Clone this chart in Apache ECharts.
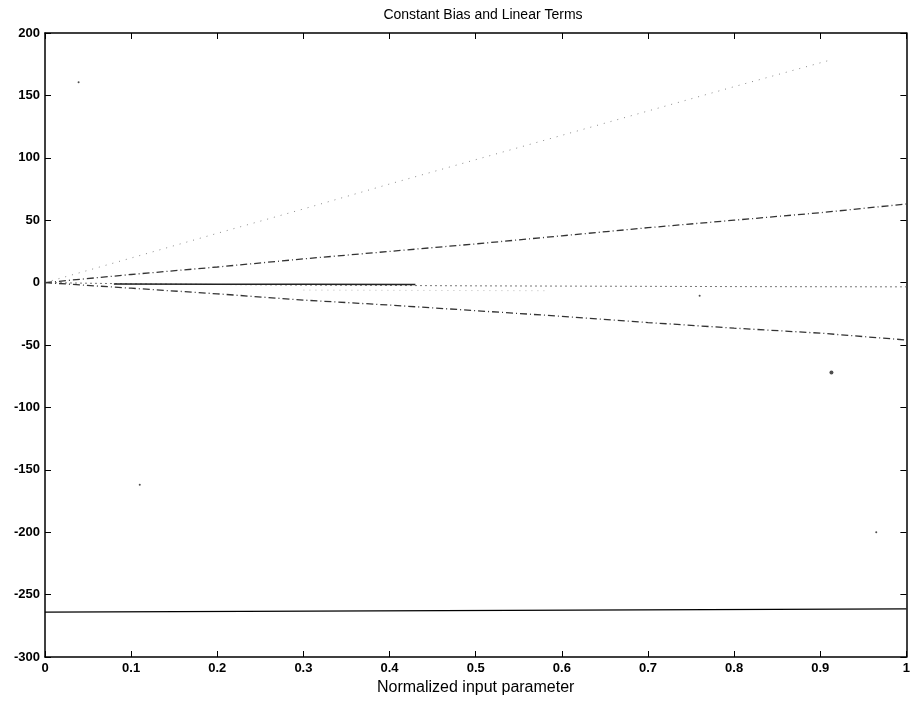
<!DOCTYPE html>
<html>
<head>
<meta charset="utf-8">
<script src="https://cdn.jsdelivr.net/npm/echarts@6/dist/echarts.min.js"></script>
<style>html,body{margin:0;padding:0;background:#fff}#c{width:913px;height:704px}</style>
</head>
<body>
<div id="c"></div>
<script>
var title = 'Constant Bias and Linear Terms';
var xName = 'Normalized input parameter';
var xTicks = [0, 0.1, 0.2, 0.3, 0.4, 0.5, 0.6, 0.7, 0.8, 0.9, 1];
var yTicks = [-300, -250, -200, -150, -100, -50, 0, 50, 100, 150, 200];

var xSteep = [0, 0.1, 0.2, 0.3, 0.4, 0.5, 0.6, 0.7, 0.8, 0.91];
var ySteep = [0, 19.7, 39.5, 59, 79, 98.5, 118, 137.5, 157, 178];

var xUpper = [0, 0.1, 0.2, 0.3, 0.4, 0.5, 0.6, 0.7, 0.8, 0.9, 1];
var yUpper = [0, 6.5, 12.5, 19, 25, 31, 37.5, 44, 50, 56, 63];

var xNear = [0, 0.1, 0.2, 0.3, 0.4, 0.5, 0.6, 0.7, 0.8, 0.9, 1];
var yNear = [0, -1, -1.5, -2, -2.3, -2.6, -2.8, -3, -3.2, -3.3, -3.4];

var xSolidNear = [0.08, 0.2, 0.3, 0.43];
var ySolidNear = [-1.2, -1.3, -1.4, -1.5];

var xFaint = [0.3, 0.45, 0.58];
var yFaint = [-6, -6.3, -6.5];

var xLower = [0, 0.1, 0.2, 0.3, 0.4, 0.5, 0.6, 0.7, 0.8, 0.9, 1];
var yLower = [0, -4.5, -9, -14, -18, -22.5, -27, -32, -36.5, -40.5, -46];

var xFlat = [0, 1];
var yFlat = [-264, -261.5];

var xDots = [0.039, 0.11, 0.913, 0.76, 0.965];
var yDots = [160.5, -162, -72, -10.5, -200];
var dotSizes = [2, 2, 4, 2, 2];

function pairs(xs, ys) { return xs.map(function (x, i) { return [x, ys[i]]; }); }

var chart = echarts.init(document.getElementById('c'), null, {renderer: 'canvas'});
var axisFont = {fontFamily: 'Liberation Sans', fontSize: 13, fontWeight: 'bold', color: '#000'};
var lineBase = {type: 'line', showSymbol: false, symbol: 'none', animation: false, silent: true};

chart.setOption({
  animation: false,
  backgroundColor: '#fff',
  title: {
    text: title, left: 478, top: 3, textAlign: 'center',
    textStyle: {fontFamily: 'Liberation Sans', fontSize: 14, fontWeight: 'normal', color: '#000'}
  },
  grid: {left: 45, right: 5, top: 33, bottom: 47, containLabel: false},
  xAxis: [{
    type: 'value', min: 0, max: 1, interval: 0.1, position: 'bottom',
    name: xName, nameLocation: 'middle', nameGap: 22,
    nameTextStyle: {fontFamily: 'Liberation Sans', fontSize: 16, color: '#000'},
    axisLine: {show: true, onZero: false, lineStyle: {color: '#000', width: 1.5}},
    axisTick: {show: true, inside: true, length: 6, lineStyle: {color: '#000'}},
    axisLabel: Object.assign({margin: 5, formatter: function (v) { return xTicks.indexOf(Math.round(v * 10) / 10) >= 0 ? String(Math.round(v * 10) / 10) : ''; }}, axisFont),
    splitLine: {show: false}
  }, {
    type: 'value', min: 0, max: 1, interval: 0.1, position: 'top',
    axisLine: {show: true, onZero: false, lineStyle: {color: '#000', width: 1.5}},
    axisTick: {show: true, inside: true, length: 6, lineStyle: {color: '#000'}},
    axisLabel: {show: false}, splitLine: {show: false}
  }],
  yAxis: [{
    type: 'value', min: -300, max: 200, interval: 50, position: 'left',
    axisLine: {show: true, onZero: false, lineStyle: {color: '#000', width: 1.5}},
    axisTick: {show: true, inside: true, length: 6, lineStyle: {color: '#000'}},
    axisLabel: Object.assign({margin: 5}, axisFont),
    splitLine: {show: false}
  }, {
    type: 'value', min: -300, max: 200, interval: 50, position: 'right',
    axisLine: {show: true, onZero: false, lineStyle: {color: '#000', width: 1.5}},
    axisTick: {show: true, inside: true, length: 6, lineStyle: {color: '#000'}},
    axisLabel: {show: false}, splitLine: {show: false}
  }],
  series: [
    Object.assign({}, lineBase, {data: pairs(xSteep, ySteep), lineStyle: {color: '#8a8a8a', width: 1, type: [1, 6]}}),
    Object.assign({}, lineBase, {data: pairs(xUpper, yUpper), lineStyle: {color: '#333', width: 1.3, type: [7, 3, 1, 3]}}),
    Object.assign({}, lineBase, {data: pairs(xNear, yNear), lineStyle: {color: '#777', width: 1, type: [2, 3]}}),
    Object.assign({}, lineBase, {data: pairs(xSolidNear, ySolidNear), lineStyle: {color: '#222', width: 1.5, type: 'solid'}}),
    Object.assign({}, lineBase, {data: pairs(xFaint, yFaint), lineStyle: {color: '#bbb', width: 1, type: [1, 5]}}),
    Object.assign({}, lineBase, {data: pairs(xLower, yLower), lineStyle: {color: '#333', width: 1.3, type: [7, 3, 1, 3]}}),
    Object.assign({}, lineBase, {data: pairs(xFlat, yFlat), lineStyle: {color: '#000', width: 1.3, type: 'solid'}}),
    {type: 'scatter', animation: false, silent: true,
     data: xDots.map(function (x, i) { return {value: [x, yDots[i]], symbolSize: dotSizes[i]}; }),
     itemStyle: {color: '#222'}}
  ]
});
</script>
</body>
</html>
